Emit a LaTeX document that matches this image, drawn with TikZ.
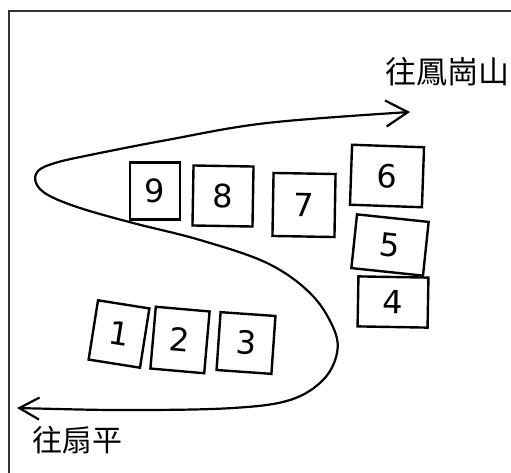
\documentclass[tikz,border=0pt]{standalone}
\usepackage{fontspec}
\newfontfamily\cjk{Noto Sans CJK TC}
\setmainfont{DejaVu Sans}
\usetikzlibrary{arrows.meta}
\begin{document}
\begin{tikzpicture}[x=1pt,y=-1pt,
  lot/.style={draw, line width=2.4pt, rectangle, inner sep=0pt, font=\fontsize{32}{32}\selectfont},
  road/.style={line width=2.2pt, line cap=round, line join=round}]
\useasboundingbox (0,0) rectangle (511,473);
\fill[white] (0,0) rectangle (511,473);
\draw[line width=1.4pt, black!80] (9,473) -- (9,11) -- (511,11);
% lots
\node[lot, minimum width=50pt, minimum height=57pt] (n9) at (155,191) {9};
\node[lot, minimum width=60pt, minimum height=60pt, rotate=-1] (n8) at (223,196) {8};
\node[lot, minimum width=62pt, minimum height=63pt, rotate=-1] (n7) at (304,205) {7};
\node[lot, minimum width=72pt, minimum height=60pt, rotate=-2] (n6) at (387,176) {6};
\node[lot, minimum width=72pt, minimum height=54pt, rotate=-6] (n5) at (390,245) {5};
\node[lot, minimum width=70pt, minimum height=50pt, rotate=-1] (n4) at (393,302) {4};
\node[lot, minimum width=52pt, minimum height=60pt, rotate=-9] (n1) at (119,334) {1};
\node[lot, minimum width=54pt, minimum height=62pt, rotate=-5] (n2) at (180,340) {2};
\node[lot, minimum width=55pt, minimum height=58pt, rotate=-4] (n3) at (246,343) {3};
% road ends
\coordinate (east) at (410,112);
\coordinate (west) at (17,408);
\draw[road, {Straight Barb[length=20pt,width=22pt]}-{Straight Barb[length=22pt,width=26pt]}]
  plot[smooth, tension=0.6] coordinates {(west) (133,410) (233,408) (290,400) (323,380) (337,353) (333,327) (310,293) (267,263) (200,240) (133,223) (80,208) (48,195) (36,183) (38,171) (55,163) (90,155) (167,140) (267,123) (east)};
% labels
\node[font=\cjk\fontsize{31}{31}\selectfont, anchor=west, inner sep=0pt] (north) at (385,72) {往鳳崗山};
\node[font=\cjk\fontsize{30}{30}\selectfont, anchor=west, inner sep=0pt] (south) at (32,440) {往扇平};
\end{tikzpicture}
\end{document}
